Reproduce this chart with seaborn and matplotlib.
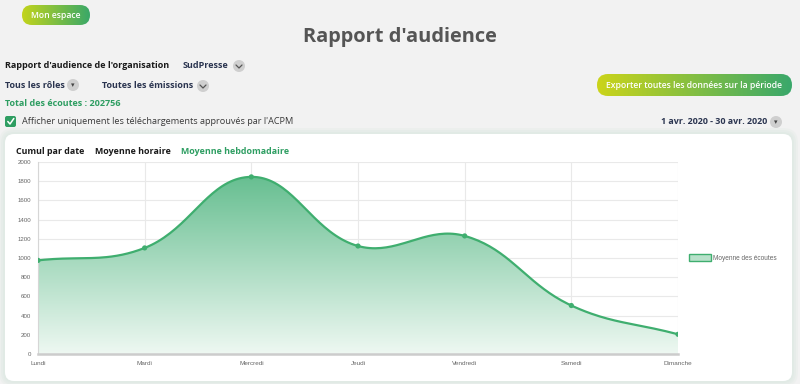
import numpy as np
import matplotlib
matplotlib.use("Agg")
import matplotlib.pyplot as plt
from matplotlib.patches import FancyBboxPatch, Circle, Patch
from matplotlib.colors import LinearSegmentedColormap
import seaborn as sns
import pandas as pd

# === Data ===
jours = ["Lundi", "Mardi", "Mercredi", "Jeudi", "Vendredi", "Samedi", "Dimanche"]
moyenne_ecoutes = [975, 1105, 1845, 1125, 1230, 505, 205]
y_ticks = list(range(0, 2001, 200))
total_ecoutes = 202756
organisation = "SudPresse"
periode = "1 avr. 2020 - 30 avr. 2020"
onglets = ["Cumul par date", "Moyenne horaire", "Moyenne hebdomadaire"]

GREEN = "#3fae6f"
NAVY = "#2b3550"
UI_FONT = ["Open Sans", "DejaVu Sans"]
CHART_FONT = ["Liberation Sans", "DejaVu Sans"]

sns.set_theme(style="white")
plt.rcParams["font.family"] = UI_FONT


# Chart.js style bezier curve (tension 0.4), computed in pixel space
def chartjs_spline(values, tension=0.4, w=640, h=192, ymax=2000, steps=40):
    n = len(values)
    sx, sy = w / (n - 1), h / ymax
    p = np.column_stack([np.arange(n) * sx, np.asarray(values, float) * sy])
    cp_prev = np.zeros_like(p)
    cp_next = np.zeros_like(p)
    for i in range(n):
        prev, cur, nxt = p[max(i - 1, 0)], p[i], p[min(i + 1, n - 1)]
        d01 = np.hypot(*(cur - prev))
        d12 = np.hypot(*(nxt - cur))
        tot = d01 + d12
        s01 = d01 / tot if tot else 0
        s12 = d12 / tot if tot else 0
        cp_prev[i] = cur - tension * s01 * (nxt - prev)
        cp_next[i] = cur + tension * s12 * (nxt - prev)
    cp_prev[:, 1] = np.clip(cp_prev[:, 1], 0, h)
    cp_next[:, 1] = np.clip(cp_next[:, 1], 0, h)
    t = np.linspace(0, 1, steps)[:, None]
    segs = []
    for i in range(n - 1):
        b = ((1 - t) ** 3 * p[i] + 3 * (1 - t) ** 2 * t * cp_next[i]
             + 3 * (1 - t) * t ** 2 * cp_prev[i + 1] + t ** 3 * p[i + 1])
        segs.append(b if i == 0 else b[1:])
    pts = np.vstack(segs)
    return pts[:, 0] / sx, pts[:, 1] / sy


fig = plt.figure(figsize=(8, 3.84), dpi=100)
fig.patch.set_facecolor("#f2f2f2")

# === Background layer in pixel coordinates ===
bg = fig.add_axes([0, 0, 1, 1], zorder=0)
bg.set_xlim(0, 800)
bg.set_ylim(384, 0)
bg.axis("off")


def pill(x0, y0, x1, y1, c0, c1, label, size):
    patch = FancyBboxPatch((x0, y0), x1 - x0, y1 - y0,
                           boxstyle=f"round,pad=0,rounding_size={(y1 - y0) / 2}",
                           facecolor="none", edgecolor="none")
    bg.add_patch(patch)
    cmap = LinearSegmentedColormap.from_list("btn", [c0, c1])
    im = bg.imshow(np.linspace(0, 1, 200)[None, :], extent=[x0, x1, y1, y0],
                   cmap=cmap, aspect="auto", zorder=3)
    im.set_clip_path(patch)
    bg.text((x0 + x1) / 2, (y0 + y1) / 2, label, color="white", fontsize=size,
            fontweight="semibold", ha="center", va="center", zorder=4)


def dropdown(cx, cy, kind):
    bg.add_patch(Circle((cx, cy), 6, facecolor="#cfcfcf", edgecolor="none", zorder=3))
    if kind == "chevron":
        bg.plot([cx - 3, cx, cx + 3], [cy - 1, cy + 2, cy - 1], color="#555555",
                lw=0.9, zorder=4, solid_capstyle="round")
    else:
        bg.text(cx, cy + 0.5, "▾", color="#444444", fontsize=5, ha="center",
                va="center", family="DejaVu Sans", zorder=4)


# card shadow + card
for pad, alpha in [(6, 0.25), (4, 0.35), (2, 0.5)]:
    bg.add_patch(FancyBboxPatch((5 - pad, 134 - pad), 787 + 2 * pad, 247 + 2 * pad,
                                boxstyle=f"round,pad=0,rounding_size={9 + pad}",
                                facecolor="#dde9e2", edgecolor="none", alpha=alpha, zorder=1))
bg.add_patch(FancyBboxPatch((5, 134), 787, 247, boxstyle="round,pad=0,rounding_size=9",
                            facecolor="white", edgecolor="none", zorder=2))

# header
pill(22, 5, 90, 25, "#c2d41c", "#3aa868", "Mon espace", 6.2)
bg.text(400, 37, "Rapport d'audience", fontsize=14.4, fontweight="bold",
        color="#555555", ha="center", va="center", zorder=3)

bg.text(5, 66, "Rapport d'audience de l'organisation", fontsize=6.5, fontweight="bold",
        color="#1a1a1a", va="center", zorder=3)
bg.text(183, 65, organisation, fontsize=6.5, fontweight="bold", color=NAVY,
        va="center", zorder=3)
dropdown(239, 66, "chevron")

bg.text(5, 85, "Tous les rôles", fontsize=6.5, fontweight="bold", color=NAVY,
        va="center", zorder=3)
dropdown(73, 85, "triangle")
bg.text(102, 85, "Toutes les émissions", fontsize=6.5, fontweight="bold", color=NAVY,
        va="center", zorder=3)
dropdown(203, 86, "chevron")

pill(597, 74, 792, 96, "#cbd41a", "#3aa86b", "Exporter toutes les données sur la période", 6.2)

bg.text(5, 103, f"Total des écoutes : {total_ecoutes}", fontsize=6.5, fontweight="bold",
        color="#2e9e62", va="center", zorder=3)

bg.add_patch(FancyBboxPatch((5, 116), 11, 11, boxstyle="round,pad=0,rounding_size=2",
                            facecolor="#2f9e62", edgecolor="none", zorder=3))
bg.plot([7.8, 10, 13.8], [121.5, 124, 118.5], color="white", lw=1.1, zorder=4)
bg.text(22, 122, "Afficher uniquement les téléchargements approuvés par l'ACPM",
        fontsize=6.55, color="#3a3a3a", va="center", zorder=3)

bg.text(767, 122, periode, fontsize=6.4, fontweight="bold", color=NAVY,
        ha="right", va="center", zorder=3)
dropdown(776, 122, "triangle")

# tabs
tab_x = [16, 95, 181]
for x, lab, col in zip(tab_x, onglets, ["#1a1a1a", "#1a1a1a", "#2e9e62"]):
    bg.text(x, 151, lab, fontsize=6.4, fontweight="bold", color=col, va="center", zorder=3)

bg.set_xlim(0, 800)
bg.set_ylim(384, 0)

# === Chart ===
ax = fig.add_axes([38 / 800, 1 - 354 / 384, 640 / 800, 192 / 384], zorder=2)
ax.set_facecolor("white")

df = pd.DataFrame({"jour": jours, "pos": range(len(jours)), "ecoutes": moyenne_ecoutes})
cx, cy = chartjs_spline(df["ecoutes"].values)
curve = pd.DataFrame({"x": cx, "y": cy})

fill_cmap = LinearSegmentedColormap.from_list("fill", ["#eef8f2", "#5cba89"])
im = ax.imshow(np.linspace(0, 1, 256)[:, None], extent=[0, len(jours) - 1, 0, 2000],
               origin="lower", aspect="auto", cmap=fill_cmap, zorder=1)
poly = ax.fill_between(curve["x"], curve["y"], 0, facecolor="none", edgecolor="none")
im.set_clip_path(poly.get_paths()[0], transform=ax.transData)

sns.lineplot(data=curve, x="x", y="y", sort=False, color=GREEN, lw=1.6, ax=ax, zorder=3)
sns.scatterplot(data=df, x="pos", y="ecoutes", color=GREEN, s=14, edgecolor="none",
                ax=ax, zorder=4)

ax.set_xlim(0, len(jours) - 1)
ax.set_ylim(0, 2000)
ax.set_xticks(df["pos"])
ax.set_xticklabels(jours, family=CHART_FONT, fontsize=4.6, color="#666666")
ax.set_yticks(y_ticks)
ax.set_yticklabels([str(v) for v in y_ticks], family=CHART_FONT, fontsize=4.4, color="#666666")
ax.set_xlabel("")
ax.set_ylabel("")
ax.grid(True, color="#e9e9e9", lw=0.8, zorder=0)
ax.set_axisbelow(True)
ax.tick_params(axis="both", length=3, width=0.6, color="#dddddd", pad=2)
for side in ["top", "right"]:
    ax.spines[side].set_visible(False)
ax.spines["left"].set_color("#d6d6d6")
ax.spines["left"].set_linewidth(0.8)
ax.spines["bottom"].set_color("#cccccc")
ax.spines["bottom"].set_linewidth(1.8)

handle = Patch(facecolor="#b8e1ca", edgecolor=GREEN, linewidth=1.0, label="Moyenne des écoutes")
leg = fig.legend(handles=[handle], loc="center left", bbox_to_anchor=(684 / 800, 1 - 258 / 384),
                 frameon=False, prop={"family": CHART_FONT, "size": 4.7},
                 handlelength=3.4, handleheight=1.1, handletextpad=0.4, borderpad=0.2)
for t in leg.get_texts():
    t.set_color("#666666")

fig.savefig("out.png", dpi=100, facecolor=fig.get_facecolor())
